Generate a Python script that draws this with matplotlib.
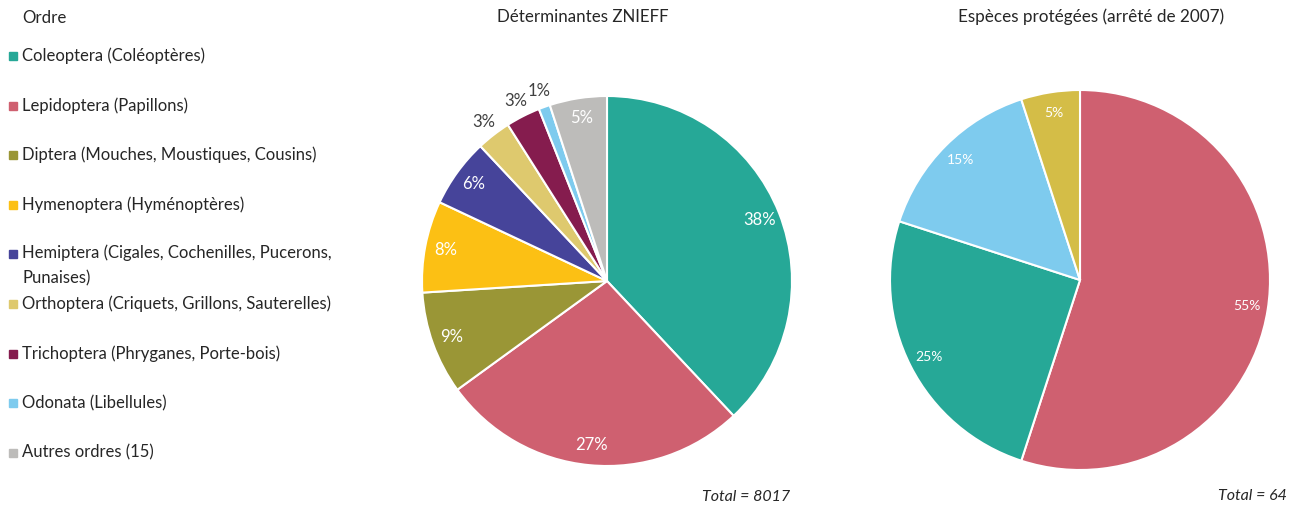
import matplotlib.pyplot as plt
import numpy as np
from matplotlib.patches import Rectangle

plt.rcParams['font.family'] = ['Lato', 'DejaVu Sans']

orders = ['Coleoptera (Coléoptères)', 'Lepidoptera (Papillons)',
          'Diptera (Mouches, Moustiques, Cousins)', 'Hymenoptera (Hyménoptères)',
          'Hemiptera (Cigales, Cochenilles, Pucerons,\nPunaises)',
          'Orthoptera (Criquets, Grillons, Sauterelles)',
          'Trichoptera (Phryganes, Porte-bois)', 'Odonata (Libellules)',
          'Autres ordres (15)']
colors = ['#26A897', '#CF6070', '#9A9636', '#FCC014', '#46449A',
          '#DEC96E', '#851C4E', '#7ECBEE', '#BDBCBA']

# Déterminantes ZNIEFF (% of 8017)
znieff = [38, 27, 9, 8, 6, 3, 3, 1, 5]
# Espèces protégées: Lepidoptera, Coleoptera, Odonata, Orthoptera (% of 64)
prot = [55, 25, 15, 5]
prot_colors = ['#CF6070', '#26A897', '#7ECBEE', '#D4BD47']

W, H = 1293, 509
fig = plt.figure(figsize=(W / 100, H / 100), dpi=100)
dark = '#262626'


def pie_axes(cx, cy, r):
    return fig.add_axes([(cx - r) / W, (H - cy - r) / H, 2 * r / W, 2 * r / H])


def draw_pie(ax, vals, cols, fs, out_thresh):
    wedges, _, autos = ax.pie(vals, colors=cols, startangle=90, counterclock=False,
                              autopct='%.0f%%', pctdistance=0.89,
                              wedgeprops=dict(edgecolor='white', linewidth=1.5),
                              textprops=dict(color='white', fontsize=fs))
    for w, t, v in zip(wedges, autos, vals):
        if v < out_thresh:
            ang = np.deg2rad((w.theta1 + w.theta2) / 2)
            t.set_position((1.09 * np.cos(ang), 1.09 * np.sin(ang)))
            t.set_color('#404040')
    ax.set_xlim(-1, 1)
    ax.set_ylim(-1, 1)
    ax.axis('off')


ax1 = pie_axes(607, 281, 185)
draw_pie(ax1, znieff, colors, 12, 3.5)
ax2 = pie_axes(1080, 280, 190)
draw_pie(ax2, prot, prot_colors, 10, 0)

fig.text(583 / W, 1 - 17 / H, 'Déterminantes ZNIEFF', ha='center', va='center',
         fontsize=12.2, color=dark)
fig.text(1091 / W, 1 - 17 / H, 'Espèces protégées (arrêté de 2007)', ha='center',
         va='center', fontsize=12.3, color=dark)
fig.text(790 / W, 1 - 497 / H, 'Total = 8017', ha='right', va='center',
         fontsize=11.5, style='italic', color=dark)
fig.text(1287 / W, 1 - 496 / H, 'Total = 64', ha='right', va='center',
         fontsize=11.5, style='italic', color=dark)

# legend
fig.text(22 / W, 1 - 18 / H, 'Ordre', ha='left', va='center', fontsize=12.2, color=dark)
for i, (lab, c) in enumerate(zip(orders, colors)):
    y = 56 + i * 49.6
    fig.patches.append(Rectangle((9 / W, 1 - (y + 4) / H), 8 / W, 8 / H,
                                 transform=fig.transFigure, color=c))
    if '\n' in lab:
        fig.text(22 / W, 1 - (y - 10) / H, lab, ha='left', va='top',
                 fontsize=12, color=dark, linespacing=1.75)
    else:
        fig.text(22 / W, 1 - y / H, lab, ha='left', va='center',
                 fontsize=12, color=dark)

fig.savefig('out.png', dpi=100, facecolor='white')
